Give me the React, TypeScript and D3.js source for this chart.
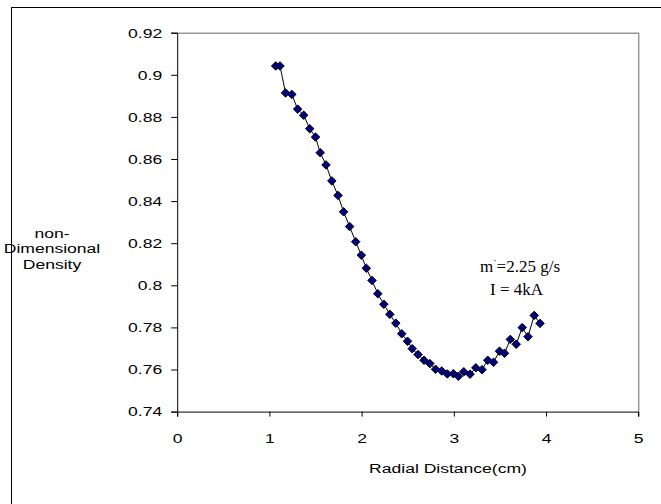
import React, { useEffect, useRef } from "react";
import * as d3 from "d3";

const radialDistance = [
  1.068, 1.115, 1.175, 1.243, 1.306, 1.372, 1.437, 1.5, 1.551, 1.614,
  1.677, 1.744, 1.805, 1.87, 1.936, 1.997, 2.051, 2.113, 2.176, 2.241,
  2.306, 2.371, 2.435, 2.498, 2.549, 2.612, 2.677, 2.74, 2.802, 2.869,
  2.93, 2.995, 3.049, 3.108, 3.176, 3.239, 3.306, 3.368, 3.431, 3.496,
  3.55, 3.613, 3.677, 3.742, 3.805, 3.872, 3.935,
];
const density = [
  0.9042, 0.9042, 0.8914, 0.8907, 0.8837, 0.8808, 0.8744, 0.8704, 0.863, 0.8572,
  0.8496, 0.8427, 0.8349, 0.8279, 0.8207, 0.8143, 0.8081, 0.8023, 0.796, 0.791,
  0.7862, 0.782, 0.777, 0.7734, 0.7699, 0.7671, 0.7644, 0.7628, 0.7601, 0.7593,
  0.7579, 0.758, 0.7568, 0.7589, 0.7578, 0.7608, 0.7599, 0.7644, 0.7634, 0.7687,
  0.7677, 0.7743, 0.772, 0.7799, 0.7756, 0.7857, 0.7819,
];
const xTicks = [0, 1, 2, 3, 4, 5];
const yTicks = [0.74, 0.76, 0.78, 0.8, 0.82, 0.84, 0.86, 0.88, 0.9, 0.92];
const yTitleLines = ["non-", "Dimensional", "Density"];
const xTitle = "Radial Distance(cm)";
const annotation = ["=2.25 g/s", "I = 4kA"];

const W = 661;
const H = 504;
const left = 177.2, right = 638.2, top = 32.7, bottom = 411.6;
const SX = 1.3; // horizontal stretch of the sans text
const FS = 13.5;

export default function App() {
  const ref = useRef<SVGSVGElement>(null);
  useEffect(() => {
    const svg = d3.select(ref.current);
    svg.selectAll("*").remove();
    const x = d3.scaleLinear().domain([0, 5]).range([left, right]);
    const y = d3.scaleLinear().domain([0.74, 0.92]).range([bottom, top]);
    const font = "'Liberation Sans', Arial, sans-serif";

    // outer frame
    svg.append("rect")
      .attr("x", 11.5).attr("y", 7.5).attr("width", 700).attr("height", 600)
      .attr("fill", "white").attr("stroke", "#000").attr("stroke-width", 1);

    // plot area top/right border
    svg.append("path")
      .attr("d", `M${left},${top + 0.5}H${right + 0.5}V${bottom}`)
      .attr("fill", "none").attr("stroke", "#999").attr("stroke-width", 1.5);

    // y axis
    const ya = svg.append("g").attr("transform", `translate(${left},0)`)
      .call(d3.axisLeft(y).tickValues(yTicks).tickSize(6).tickPadding(0)
        .tickFormat((d) => String(+(+d).toFixed(2))));
    ya.select(".domain").attr("stroke", "#000");
    ya.selectAll(".tick text")
      .attr("x", -15 / SX)
      .attr("transform", `scale(${SX},1)`)
      .attr("font-family", font).attr("font-size", FS).attr("fill", "#000");

    // x axis
    const xa = svg.append("g").attr("transform", `translate(0,${bottom})`)
      .call(d3.axisBottom(x).tickValues(xTicks).tickSize(5).tickPadding(0)
        .tickFormat((d) => String(d)));
    xa.select(".domain").attr("stroke", "#000");
    xa.selectAll(".tick text")
      .attr("y", 31).attr("dy", null)
      .attr("transform", `scale(${SX},1)`)
      .attr("font-family", font).attr("font-size", FS).attr("fill", "#000");

    const pts = radialDistance.map((d, i) => [d, density[i]] as [number, number]);
    const line = d3.line<[number, number]>().x((d) => x(d[0])).y((d) => y(d[1]));
    svg.append("path").datum(pts).attr("d", line)
      .attr("fill", "none").attr("stroke", "#000").attr("stroke-width", 1);

    const sym = d3.symbol().type(d3.symbolDiamond2).size(46);
    svg.append("g").selectAll("path").data(pts).join("path")
      .attr("transform", (d) => `translate(${x(d[0])},${y(d[1])})`)
      .attr("d", sym() as string)
      .attr("fill", "#000080").attr("stroke", "#000").attr("stroke-width", 1);

    // axis titles
    svg.append("text")
      .attr("transform", `translate(448,473) scale(${SX},1)`)
      .attr("text-anchor", "middle").attr("font-family", font).attr("font-size", FS)
      .text(xTitle);
    const yt = svg.append("text")
      .attr("transform", `translate(52,0) scale(${SX},1)`)
      .attr("font-family", font).attr("font-size", FS)
      .attr("text-anchor", "middle");
    yTitleLines.forEach((s, i) => {
      yt.append("tspan").attr("x", 0).attr("y", 238 + i * 15.5).text(s);
    });

    // annotation
    const serif = "'Liberation Serif', 'Times New Roman', serif";
    const a1 = svg.append("text").attr("x", 480).attr("y", 272)
      .attr("font-family", serif).attr("font-size", 17);
    a1.append("tspan").text("m");
    a1.append("tspan").attr("dy", -8).attr("font-size", 10).text("·");
    a1.append("tspan").attr("dy", 8).text(annotation[0]);
    svg.append("text").attr("x", 490).attr("y", 295)
      .attr("font-family", serif).attr("font-size", 17).text(annotation[1]);
  }, []);
  return (
    <svg ref={ref} width={W} height={H}
      style={{ position: "absolute", left: 0, top: 0, background: "white" }} />
  );
}
